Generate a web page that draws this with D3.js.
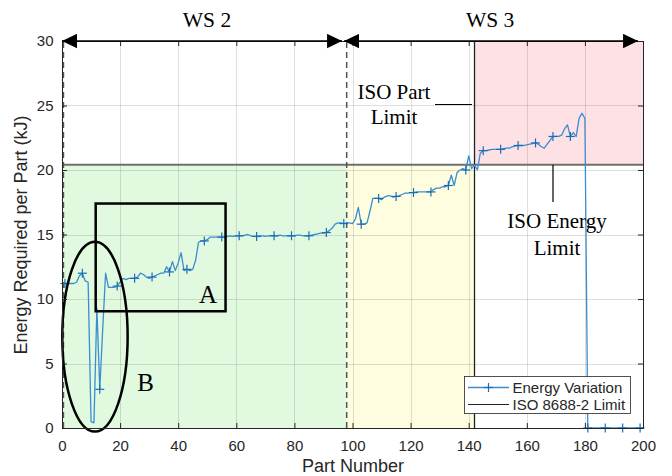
<!DOCTYPE html>
<html><head><meta charset="utf-8">
<script src="https://cdn.jsdelivr.net/npm/d3@7"></script>
<style>body{margin:0;background:#fff}</style>
</head><body><svg id="c" width="672" height="476"></svg>
<script>
// ---- data ----
const energy = [
 11.2,11.2,11.2,11.2,11.2,11.3,11.8,12.0,11.4,11.3,
 0.5,0.4,9.3,3.0,7.6,12.0,10.9,10.9,10.9,11.0,
 11.3,11.6,11.5,11.6,11.6,11.6,11.7,12.0,11.9,11.7,
 11.6,11.7,11.8,11.9,12.0,12.0,12.5,12.1,12.9,12.2,
 12.8,13.6,12.2,12.3,12.2,12.3,13.0,14.4,14.5,14.5,
 14.6,14.8,14.8,14.8,14.8,14.8,14.8,14.85,14.9,14.85,
 14.9,14.9,14.9,14.95,15.0,14.9,14.85,14.85,14.9,14.9,
 14.85,14.9,14.9,14.9,14.9,14.95,14.9,14.9,14.9,14.9,
 14.9,14.95,14.95,14.9,14.9,14.9,14.95,15.0,15.05,15.1,
 15.1,15.15,15.3,15.5,15.8,15.9,15.9,15.85,15.9,15.9,
 15.85,16.2,17.1,15.8,15.8,15.9,16.8,17.8,17.8,17.8,
 17.7,17.9,18.0,18.0,17.9,17.95,18.0,18.1,18.2,18.2,
 18.25,18.25,18.3,18.3,18.3,18.3,18.3,18.3,18.5,18.6,
 18.6,18.7,18.7,18.8,19.6,18.8,19.8,20.0,20.1,20.0,
 21.1,20.1,20.4,20.0,21.3,21.5,21.5,21.55,21.6,21.6,
 21.6,21.6,21.65,21.7,21.7,21.8,21.85,21.9,21.9,21.9,
 21.95,22.0,22.05,22.1,22.0,21.8,21.7,22.0,22.3,22.6,
 22.6,22.6,22.7,23.2,23.5,22.6,22.9,22.6,24.0,24.4,
 24.0,0,0,0,0,0,0,0,0,0,
 0,0,0,0,0,0,0,0,0,0,
 0
];
const xTicks = [0,20,40,60,80,100,120,140,160,180,200];
const yTicks = [0,5,10,15,20,25,30];
const energyLimit = 20.4;
const partLimit = 142;
const wsDashes = [0.5, 98];
const wsLabels = ["WS 2", "WS 3"];
const wsStarts = [0, 97.1];
const wsEnds = [96.4, 198.3];
const boxA = {x0: 11.6, x1: 56.3, y0: 9.05, y1: 17.4};
const ellipseB = {cx: 11.35, cy: 7.08, rx: 11.25, ry: 7.36};
const legendLabels = ["Energy Variation", "ISO 8688-2 Limit"];

// ---- layout ----
const svg = d3.select("#c");
const W = 672, H = 476;
const x = d3.scaleLinear([0, 200], [62, 643]);
const y = d3.scaleLinear([0, 30], [428, 41]);
const sans = "'Liberation Sans', Arial, Helvetica, sans-serif";
const serif = "'Liberation Serif', 'Times New Roman', serif";
const axisCol = "#262626";

svg.append("rect").attr("width", W).attr("height", H).attr("fill", "#fff");

// shaded regions
svg.append("rect").attr("x", x(0)).attr("y", y(energyLimit))
  .attr("width", x(wsDashes[1]) - x(0)).attr("height", y(0) - y(energyLimit))
  .attr("fill", "#e1fadf");
svg.append("rect").attr("x", x(wsDashes[1])).attr("y", y(energyLimit))
  .attr("width", x(partLimit) - x(wsDashes[1])).attr("height", y(0) - y(energyLimit))
  .attr("fill", "#fefde0");
svg.append("rect").attr("x", x(partLimit)).attr("y", y(30))
  .attr("width", x(200) - x(partLimit)).attr("height", y(energyLimit) - y(30))
  .attr("fill", "#fde1e4");

// grid
const grid = svg.append("g").attr("stroke", "rgba(38,38,38,0.15)").attr("stroke-width", 1);
grid.selectAll(".gx").data(xTicks.slice(1, -1)).join("line")
  .attr("x1", d => Math.round(x(d)) + 0.5).attr("x2", d => Math.round(x(d)) + 0.5)
  .attr("y1", y(0)).attr("y2", y(30));
grid.selectAll(".gy").data(yTicks.slice(1, -1)).join("line")
  .attr("x1", x(0)).attr("x2", x(200))
  .attr("y1", d => Math.round(y(d)) + 0.5).attr("y2", d => Math.round(y(d)) + 0.5);

// limit lines
svg.append("line").attr("x1", x(0)).attr("x2", x(200))
  .attr("y1", y(energyLimit)).attr("y2", y(energyLimit))
  .attr("stroke", "#6f6f6f").attr("stroke-width", 2);
svg.append("line").attr("x1", x(partLimit)).attr("x2", x(partLimit))
  .attr("y1", y(0)).attr("y2", y(30))
  .attr("stroke", "#222").attr("stroke-width", 1.3);

// dashed workstation boundaries
svg.selectAll(".dash").data(wsDashes).join("line")
  .attr("x1", d => x(d)).attr("x2", d => x(d))
  .attr("y1", y(0)).attr("y2", y(30))
  .attr("stroke", "#555").attr("stroke-width", 1.5)
  .attr("stroke-dasharray", "6,4");

// series
const pts = energy.map((v, i) => [i, v]);
svg.append("path").datum(pts)
  .attr("fill", "none").attr("stroke", "#3a8dd0").attr("stroke-width", 1.3)
  .attr("stroke-linejoin", "round")
  .attr("d", d3.line().x(d => x(d[0])).y(d => y(d[1])));
const mk = pts.filter(d => d[0] % 6 === 1);
const mg = svg.append("g").attr("stroke", "#1a6db3").attr("stroke-width", 1.2);
mk.forEach(d => {
  const cx = x(d[0]), cy = y(d[1]);
  mg.append("line").attr("x1", cx - 4.5).attr("x2", cx + 4.5).attr("y1", cy).attr("y2", cy);
  mg.append("line").attr("x1", cx).attr("x2", cx).attr("y1", cy - 4.5).attr("y2", cy + 4.5);
});

// annotation shapes
svg.append("rect").attr("x", x(boxA.x0)).attr("y", y(boxA.y1))
  .attr("width", x(boxA.x1) - x(boxA.x0)).attr("height", y(boxA.y0) - y(boxA.y1))
  .attr("fill", "none").attr("stroke", "#000").attr("stroke-width", 2.5);
svg.append("ellipse").attr("cx", x(ellipseB.cx)).attr("cy", y(ellipseB.cy))
  .attr("rx", x(ellipseB.rx) - x(0)).attr("ry", y(0) - y(ellipseB.ry))
  .attr("fill", "none").attr("stroke", "#000").attr("stroke-width", 2.5);

// axes
const fmt = d3.format("d");
const ax = svg.append("g").attr("transform", `translate(0,${y(0)})`)
  .call(d3.axisBottom(x).tickValues(xTicks).tickSize(-5).tickSizeOuter(0).tickPadding(12).tickFormat(fmt));
const ay = svg.append("g").attr("transform", `translate(${x(0)},0)`)
  .call(d3.axisLeft(y).tickValues(yTicks).tickSize(-5).tickSizeOuter(0).tickPadding(8.5).tickFormat(fmt));
const at = svg.append("g").attr("transform", `translate(0,${y(30)})`)
  .call(d3.axisTop(x).tickValues(xTicks).tickSize(-5).tickSizeOuter(0).tickFormat(""));
const ar = svg.append("g").attr("transform", `translate(${x(200)},0)`)
  .call(d3.axisRight(y).tickValues(yTicks).tickSize(-5).tickSizeOuter(0).tickFormat(""));
[ax, ay, at, ar].forEach(g => {
  g.selectAll("path, line").attr("stroke", axisCol);
  g.selectAll("text").attr("fill", axisCol).style("font-family", sans).style("font-size", "15px");
});

svg.append("text").attr("x", 353).attr("y", 471.5).attr("text-anchor", "middle")
  .style("font-family", sans).style("font-size", "18px").attr("fill", axisCol)
  .text("Part Number");
svg.append("text").attr("transform", "translate(27,235) rotate(-90)").attr("text-anchor", "middle")
  .style("font-family", sans).style("font-size", "18px").attr("fill", axisCol)
  .text("Energy Required per Part (kJ)");

// workstation arrows
const defs = svg.append("defs");
defs.append("marker").attr("id", "ah").attr("viewBox", "0 0 10 10")
  .attr("refX", 10).attr("refY", 5).attr("markerWidth", 15).attr("markerHeight", 15)
  .attr("markerUnits", "userSpaceOnUse").attr("orient", "auto-start-reverse")
  .append("path").attr("d", "M0,0.2 L10,5 L0,9.8 Z").attr("fill", "#000");
wsLabels.forEach((lab, i) => {
  svg.append("line").attr("x1", x(wsStarts[i])).attr("x2", x(wsEnds[i]))
    .attr("y1", y(30)).attr("y2", y(30))
    .attr("stroke", "#000").attr("stroke-width", 1.5)
    .attr("marker-start", "url(#ah)").attr("marker-end", "url(#ah)");
  svg.append("text").attr("x", (x(wsStarts[i]) + x(wsEnds[i])) / 2 + (i ? -1 : 5)).attr("y", 26.5)
    .attr("text-anchor", "middle").style("font-family", serif).style("font-size", "21.5px")
    .attr("fill", "#000").text(lab);
});

// text annotations
const ann = (tx, ty, t, fs) => svg.append("text").attr("x", tx).attr("y", ty)
  .attr("text-anchor", "middle").style("font-family", serif).style("font-size", fs)
  .attr("fill", "#000").text(t);
ann(394, 99.3, "ISO Part", "21px");
ann(394, 124, "Limit", "21px");
ann(557, 228.3, "ISO Energy", "21px");
ann(557, 255, "Limit", "21px");
ann(208, 302.7, "A", "25px");
ann(145.5, 391, "B", "25px");
svg.append("line").attr("x1", 435).attr("x2", 472).attr("y1", 104.5).attr("y2", 104.5)
  .attr("stroke", "#000").attr("stroke-width", 1.2);
svg.append("line").attr("x1", 553).attr("x2", 553).attr("y1", y(energyLimit)).attr("y2", 202)
  .attr("stroke", "#000").attr("stroke-width", 1.2);

// legend
const lg = svg.append("g");
lg.append("rect").attr("x", 464.5).attr("y", 376.5).attr("width", 166).attr("height", 37)
  .attr("fill", "#fff").attr("stroke", axisCol).attr("stroke-width", 0.8);
const ly = [387.5, 404.5];
lg.append("line").attr("x1", 468).attr("x2", 509).attr("y1", ly[0]).attr("y2", ly[0])
  .attr("stroke", "#3a8dd0").attr("stroke-width", 1.3);
lg.append("line").attr("x1", 488.5).attr("x2", 488.5).attr("y1", ly[0] - 4.5).attr("y2", ly[0] + 4.5)
  .attr("stroke", "#1a6db3").attr("stroke-width", 1.2);
lg.append("line").attr("x1", 484).attr("x2", 493).attr("y1", ly[0]).attr("y2", ly[0])
  .attr("stroke", "#1a6db3").attr("stroke-width", 1.2);
lg.append("line").attr("x1", 468).attr("x2", 509).attr("y1", ly[1]).attr("y2", ly[1])
  .attr("stroke", "#222").attr("stroke-width", 1);
legendLabels.forEach((t, i) => {
  lg.append("text").attr("x", 512.5).attr("y", ly[i] + 5.3)
    .style("font-family", sans).style("font-size", "15px").attr("fill", axisCol).text(t);
});
</script>
</body></html>
